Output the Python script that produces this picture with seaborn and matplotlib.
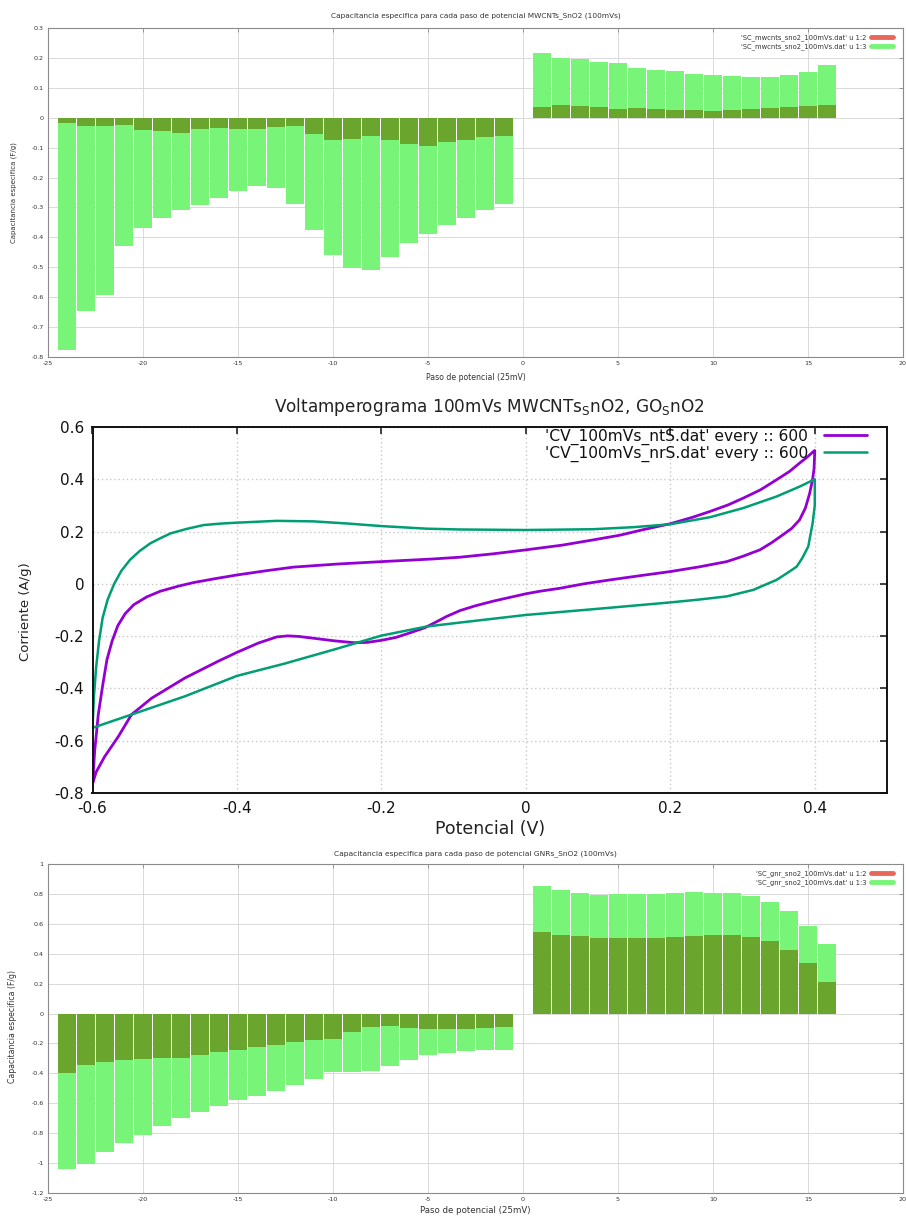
import numpy as np
import pandas as pd
import matplotlib
matplotlib.use("Agg")
import matplotlib.pyplot as plt
from matplotlib.lines import Line2D
from matplotlib.ticker import FixedLocator, FuncFormatter
import seaborn as sns

# ---------------- DATA ----------------
# Panel 1: MWCNTs_SnO2 specific capacitance per potential step
steps_neg = list(range(-24, 0))
steps_pos = list(range(1, 17))
mw_col2_neg = [-0.017, -0.028, -0.027, -0.025, -0.042, -0.046, -0.050, -0.039,
               -0.033, -0.039, -0.038, -0.031, -0.026, -0.054, -0.076, -0.072,
               -0.060, -0.075, -0.089, -0.093, -0.081, -0.074, -0.064, -0.061]
mw_col3_neg = [-0.777, -0.645, -0.592, -0.428, -0.370, -0.334, -0.308, -0.291,
               -0.268, -0.245, -0.227, -0.234, -0.288, -0.377, -0.458, -0.504,
               -0.508, -0.465, -0.419, -0.388, -0.358, -0.336, -0.308, -0.287]
mw_col2_pos = [0.035, 0.041, 0.038, 0.036, 0.029, 0.033, 0.029, 0.025,
               0.027, 0.022, 0.027, 0.028, 0.033, 0.037, 0.039, 0.041]
mw_col3_pos = [0.216, 0.201, 0.195, 0.185, 0.182, 0.166, 0.159, 0.155,
               0.146, 0.144, 0.138, 0.136, 0.137, 0.143, 0.154, 0.177]

# Panel 3: GNRs_SnO2 specific capacitance per potential step
gn_col2_neg = [-0.398, -0.345, -0.321, -0.310, -0.301, -0.298, -0.294, -0.276,
               -0.259, -0.245, -0.225, -0.207, -0.187, -0.178, -0.169, -0.126,
               -0.088, -0.080, -0.099, -0.106, -0.104, -0.102, -0.095, -0.088]
gn_col3_neg = [-1.041, -1.005, -0.927, -0.865, -0.814, -0.753, -0.697, -0.661,
               -0.621, -0.579, -0.551, -0.515, -0.481, -0.439, -0.392, -0.392,
               -0.381, -0.350, -0.310, -0.279, -0.261, -0.250, -0.243, -0.241]
gn_col2_pos = [0.548, 0.528, 0.519, 0.508, 0.504, 0.506, 0.508, 0.513,
               0.517, 0.522, 0.522, 0.510, 0.484, 0.428, 0.337, 0.214]
gn_col3_pos = [0.856, 0.825, 0.807, 0.796, 0.798, 0.798, 0.802, 0.807,
               0.811, 0.807, 0.805, 0.785, 0.749, 0.684, 0.588, 0.464]

# Panel 2: cyclic voltammograms (potential V, current A/g)
nts_v = [-0.600, -0.597, -0.592, -0.586, -0.580, -0.573, -0.565, -0.555, -0.543,
         -0.525, -0.506, -0.480, -0.460, -0.430, -0.400, -0.360, -0.322, -0.260,
         -0.200, -0.130, -0.091, -0.045, 0.000, 0.050, 0.093, 0.130, 0.162,
         0.200, 0.230, 0.255, 0.280, 0.301, 0.325, 0.347, 0.365, 0.379, 0.390,
         0.398, 0.400,
         0.399, 0.397, 0.393, 0.387, 0.379, 0.368, 0.356, 0.340, 0.324, 0.300,
         0.278, 0.240, 0.200, 0.160, 0.116, 0.080, 0.047, 0.020, 0.000, -0.045,
         -0.070, -0.091, -0.110, -0.123, -0.140, -0.160, -0.180, -0.200, -0.220,
         -0.238, -0.265, -0.294, -0.315, -0.330, -0.345, -0.370, -0.400, -0.426,
         -0.472, -0.518, -0.546, -0.564, -0.583, -0.595, -0.600]
nts_i = [-0.770, -0.640, -0.500, -0.390, -0.290, -0.220, -0.160, -0.115, -0.080,
         -0.050, -0.028, -0.008, 0.005, 0.020, 0.034, 0.050, 0.064, 0.076,
         0.085, 0.095, 0.102, 0.115, 0.130, 0.148, 0.168, 0.186, 0.207,
         0.230, 0.254, 0.277, 0.302, 0.328, 0.360, 0.398, 0.430, 0.462, 0.486,
         0.506, 0.510,
         0.440, 0.400, 0.347, 0.290, 0.245, 0.212, 0.188, 0.157, 0.130, 0.105,
         0.085, 0.065, 0.047, 0.032, 0.015, 0.000, -0.017, -0.028, -0.038, -0.066,
         -0.084, -0.102, -0.125, -0.144, -0.168, -0.187, -0.205, -0.216, -0.224,
         -0.225, -0.218, -0.208, -0.201, -0.199, -0.203, -0.226, -0.262, -0.296,
         -0.360, -0.437, -0.500, -0.583, -0.660, -0.720, -0.765]

nrs_v = [-0.600, -0.598, -0.595, -0.591, -0.586, -0.579, -0.570, -0.560, -0.548,
         -0.535, -0.520, -0.505, -0.492, -0.470, -0.446, -0.420, -0.400, -0.345,
         -0.294, -0.248, -0.200, -0.137, -0.091, -0.045, 0.000, 0.093, 0.150,
         0.200, 0.255, 0.301, 0.347, 0.379, 0.400,
         0.400, 0.397, 0.391, 0.383, 0.375, 0.360, 0.347, 0.330, 0.315, 0.278,
         0.240, 0.200, 0.093, 0.000, -0.091, -0.137, -0.200, -0.264, -0.334,
         -0.400, -0.472, -0.546, -0.580, -0.600]
nrs_i = [-0.551, -0.430, -0.320, -0.220, -0.130, -0.060, 0.000, 0.050, 0.092,
         0.125, 0.155, 0.176, 0.193, 0.210, 0.225, 0.231, 0.234, 0.241,
         0.239, 0.231, 0.221, 0.211, 0.208, 0.207, 0.206, 0.209, 0.217,
         0.228, 0.255, 0.290, 0.334, 0.372, 0.400,
         0.300, 0.232, 0.143, 0.100, 0.066, 0.038, 0.015, -0.005, -0.023, -0.048,
         -0.060, -0.071, -0.097, -0.119, -0.148, -0.163, -0.198, -0.250, -0.305,
         -0.352, -0.430, -0.500, -0.532, -0.551]

# Text
title_top = "Capacitancia especifica para cada paso de potencial MWCNTs_SnO2 (100mVs)"
title_mid = r"Voltamperograma 100mVs MWCNTs$_{\mathrm{S}}$nO2, GO$_{\mathrm{S}}$nO2"
title_bot = "Capacitancia especifica para cada paso de potencial GNRs_SnO2 (100mVs)"
leg_top = ["'SC_mwcnts_sno2_100mVs.dat' u 1:2", "'SC_mwcnts_sno2_100mVs.dat' u 1:3"]
leg_bot = ["'SC_gnr_sno2_100mVs.dat' u 1:2", "'SC_gnr_sno2_100mVs.dat' u 1:3"]
leg_mid = ["'CV_100mVs_ntS.dat' every :: 600", "'CV_100mVs_nrS.dat' every :: 600"]
bar_xlabel = "Paso de potencial (25mV)"
bar_ylabel = "Capacitancia especifica (F/g)"
top_yticks = [-0.8, -0.7, -0.6, -0.5, -0.4, -0.3, -0.2, -0.1, 0, 0.1, 0.2, 0.3]
bot_yticks = [-1.2, -1, -0.8, -0.6, -0.4, -0.2, 0, 0.2, 0.4, 0.6, 0.8, 1]
bar_xticks = [-25, -20, -15, -10, -5, 0, 5, 10, 15, 20]
mid_xticks = [-0.6, -0.4, -0.2, 0, 0.2, 0.4]
mid_yticks = [-0.8, -0.6, -0.4, -0.2, 0, 0.2, 0.4, 0.6]

# ---------------- STYLE ----------------
sns.set_style("white")
plt.rcParams['font.family'] = ['DejaVu Sans']

LIGHT = "#78f578"
DARK = "#6aa62e"
RED = "#e8675a"
PURPLE = "#9400d3"
TEAL = "#009e73"

fmt = FuncFormatter(lambda v, p: ("%g" % round(v, 3)))

fig = plt.figure(figsize=(9.06, 12.19), dpi=100)
W, H = 906.0, 1219.0


def add_ax(x0, x1, ytop, ybot):
    return fig.add_axes([x0 / W, 1 - ybot / H, (x1 - x0) / W, (ybot - ytop) / H])


def bar_panel(ax, c2n, c3n, c2p, c3p, yticks, ylim, title, legs, title_pad):
    steps = steps_neg + steps_pos
    df = pd.DataFrame({"step": steps, "c2": c2n + c2p, "c3": c3n + c3p})
    sns.barplot(data=df, x="step", y="c3", native_scale=True, width=0.9,
                color=LIGHT, saturation=1, errorbar=None, ax=ax, zorder=3,
                edgecolor="none")
    sns.barplot(data=df, x="step", y="c2", native_scale=True, width=0.9,
                color=DARK, saturation=1, errorbar=None, ax=ax, zorder=4,
                edgecolor="none")
    ax.set_xlim(-25, 20)
    ax.set_ylim(*ylim)
    ax.xaxis.set_major_locator(FixedLocator(bar_xticks))
    ax.yaxis.set_major_locator(FixedLocator(yticks))
    ax.xaxis.set_major_formatter(fmt)
    ax.yaxis.set_major_formatter(fmt)
    ax.grid(True, color="#d4d4d4", lw=0.6, zorder=0)
    ax.set_axisbelow(True)
    for s in ax.spines.values():
        s.set_color("#8a8a8a")
        s.set_linewidth(0.8)
    ax.tick_params(direction="in", length=3, width=0.6, color="#8a8a8a",
                   labelsize=4.6, labelcolor="#333333", top=True, right=True,
                   pad=3)
    ax.set_title(title, fontsize=5.3, color="#333333", pad=title_pad)
    ax.set_xlabel(bar_xlabel, fontsize=5.6, color="#333333")
    ax.set_ylabel(bar_ylabel, fontsize=5.0, color="#333333")
    handles = [Line2D([], [], color=RED, lw=3.5), Line2D([], [], color=LIGHT, lw=3.5)]
    ax.legend(handles, legs, loc="upper right", frameon=False, fontsize=4.9,
              markerfirst=False, handlelength=3.2, labelspacing=0.35,
              bbox_to_anchor=(0.9895, 0.985), borderaxespad=0, borderpad=0.2,
              handletextpad=0.6, labelcolor="#333333")


# ---- Top panel ----
ax1 = add_ax(48, 903, 28, 357)
bar_panel(ax1, mw_col2_neg, mw_col3_neg, mw_col2_pos, mw_col3_pos,
          top_yticks, (-0.8, 0.3), title_top, leg_top, 8)
ax1.xaxis.set_label_coords(0.5, -0.05)
ax1.yaxis.set_label_coords(-0.036, 0.5)

# ---- Middle panel ----
ax2 = add_ax(92.5, 887, 427, 793)
sns.lineplot(x=nts_v, y=nts_i, sort=False, estimator=None, color=PURPLE,
             lw=2.0, ax=ax2, label=leg_mid[0])
sns.lineplot(x=nrs_v, y=nrs_i, sort=False, estimator=None, color=TEAL,
             lw=1.8, ax=ax2, label=leg_mid[1])
ax2.set_xlim(-0.6, 0.5)
ax2.set_ylim(-0.8, 0.6)
ax2.xaxis.set_major_locator(FixedLocator(mid_xticks))
ax2.yaxis.set_major_locator(FixedLocator(mid_yticks))
ax2.xaxis.set_major_formatter(fmt)
ax2.yaxis.set_major_formatter(fmt)
ax2.grid(True, color="#c8c8c8", lw=1.0, ls=(0, (1, 2)))
ax2.set_axisbelow(True)
for s in ax2.spines.values():
    s.set_color("#111111")
    s.set_linewidth(1.4)
ax2.tick_params(direction="in", length=5, width=1.2, color="#222222",
                labelsize=11, labelcolor="#111111", top=True, right=True, pad=6)
ax2.set_title(title_mid, fontsize=12.2, color="#222222", pad=11)
ax2.set_xlabel("Potencial (V)", fontsize=12.5, color="#222222")
ax2.set_ylabel("Corriente (A/g)", fontsize=9.5, color="#222222")
ax2.xaxis.set_label_coords(0.5, -0.075)
ax2.yaxis.set_label_coords(-0.076, 0.495)
ax2.legend(loc="upper right", frameon=False, fontsize=11.2, markerfirst=False,
           handlelength=2.8, labelspacing=0.02, borderaxespad=0, borderpad=0,
           bbox_to_anchor=(0.975, 0.995),
           handletextpad=1.0, labelcolor="#111111")

# ---- Bottom panel ----
ax3 = add_ax(48, 903, 864, 1193)
bar_panel(ax3, gn_col2_neg, gn_col3_neg, gn_col2_pos, gn_col3_pos,
          bot_yticks, (-1.2, 1.0), title_bot, leg_bot, 6)
ax3.xaxis.set_label_coords(0.5, -0.04)
ax3.yaxis.set_label_coords(-0.036, 0.505)
ax3.xaxis.label.set_fontsize(6.2)
ax3.yaxis.label.set_fontsize(5.6)
ax3.title.set_fontsize(5.4)

fig.savefig("out.png", dpi=100, facecolor="white")
